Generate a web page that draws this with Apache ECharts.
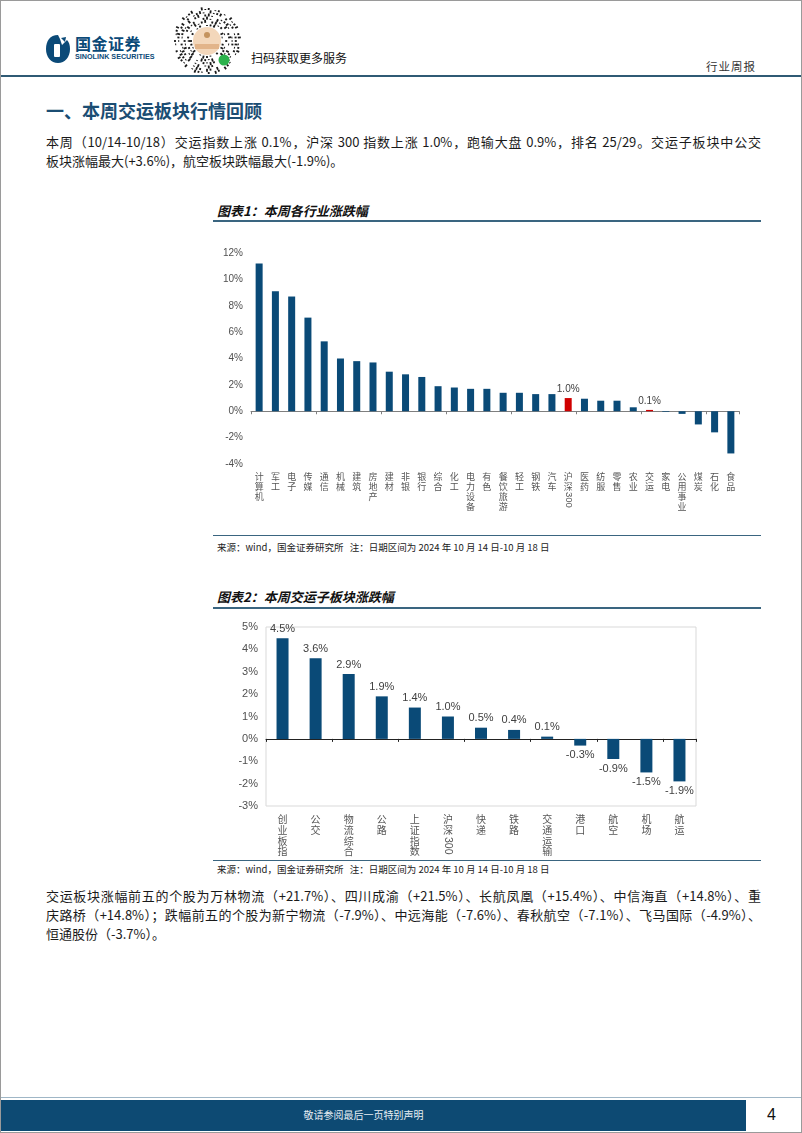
<!DOCTYPE html>
<html><head><meta charset="utf-8">
<script src="https://cdn.jsdelivr.net/npm/echarts@6/dist/echarts.min.js"></script>
<style>
html,body{margin:0;padding:0;background:#fff;}
#page{position:relative;width:802px;height:1133px;overflow:hidden;font-family:"Noto Sans CJK SC","Noto Sans",sans-serif;color:#111;box-sizing:border-box;border:1px solid #9a9a9a;background:#fff;}
.abs{position:absolute;white-space:nowrap;}
.para{position:absolute;left:45px;width:715px;font-size:13px;line-height:19px;color:#1a1a1a;}
.para div{height:19px;}
.para .full{text-align:justify;text-align-last:justify;}
.ctitle{position:absolute;left:216px;font-size:13px;font-weight:bold;font-style:italic;color:#111;line-height:16px;}
.cline{position:absolute;left:212px;width:548px;background:#3a6580;}
.src{position:absolute;left:216px;font-size:9.5px;color:#222;line-height:12px;}
</style></head>
<body>
<div id="page">
  <!-- header -->
  <svg class="abs" style="left:44px;top:33px" width="26" height="30" viewBox="0 0 26 30">
    <path d="M13 1 C5 1 1 7 1 15 C1 23 6 29 13 29 C20 29 25 23 25 15 C25 11 24 8 22 6 L17 11 L15 5 Z" fill="#0b4a78"/>
    <path d="M16 4 L21 3 L20 8 Z" fill="#0b4a78"/>
    <rect x="9" y="10" width="6" height="13" rx="1" fill="#fff"/>
  </svg>
  <div class="abs" style="left:74px;top:33px;font-size:16px;font-weight:bold;color:#0b4a78;letter-spacing:0.5px;line-height:18px;">国金证券</div>
  <div class="abs" style="left:74px;top:51px;font-size:7.2px;font-weight:bold;color:#0b4a78;line-height:9px;font-family:'Liberation Sans',Arial,sans-serif;">SINOLINK SECURITIES</div>
  <canvas id="qr" class="abs" style="left:172px;top:6px;" width="68" height="68"></canvas>
  <div class="abs" style="left:250px;top:49px;font-size:12px;color:#111;line-height:15px;">扫码获取更多服务</div>
  <div class="abs" style="left:705px;top:58px;font-size:11.5px;color:#333;line-height:14px;letter-spacing:1px;">行业周报</div>
  <div class="abs" style="left:0;top:74px;width:802px;height:2px;background:#2f5a74;"></div>

  <div class="abs" style="left:45px;top:99px;font-size:18px;font-weight:bold;color:#1b4d73;line-height:20px;">一、本周交运板块行情回顾</div>
  <div class="para" style="top:131px;">
    <div class="full">本周（10/14-10/18）交运指数上涨 0.1%，沪深 300 指数上涨 1.0%，跑输大盘 0.9%，排名 25/29。交运子板块中公交</div>
    <div>板块涨幅最大(+3.6%)，航空板块跌幅最大(-1.9%)。</div>
  </div>

  <div class="ctitle" style="top:202px;">图表1：本周各行业涨跌幅</div>
  <div class="cline" style="top:219px;height:2px;"></div>
  <div id="c1" class="abs" style="left:200px;top:230px;width:560px;height:300px;"></div>
  <div class="cline" style="top:534px;height:1px;"></div>
  <div class="src" style="top:540px;">来源：wind，国金证券研究所&nbsp;&nbsp;&nbsp;注：日期区间为 2024 年 10 月 14 日-10 月 18 日</div>

  <div class="ctitle" style="top:588px;">图表2：本周交运子板块涨跌幅</div>
  <div class="cline" style="top:606px;height:2px;"></div>
  <div id="c2" class="abs" style="left:200px;top:610px;width:560px;height:248px;"></div>
  <div class="cline" style="top:859px;height:1px;"></div>
  <div class="src" style="top:862px;">来源：wind，国金证券研究所&nbsp;&nbsp;&nbsp;注：日期区间为 2024 年 10 月 14 日-10 月 18 日</div>

  <div class="para" style="top:885px;">
    <div class="full">交运板块涨幅前五的个股为万林物流（+21.7%）、四川成渝（+21.5%）、长航凤凰（+15.4%）、中信海直（+14.8%）、重</div>
    <div class="full">庆路桥（+14.8%）；跌幅前五的个股为新宁物流（-7.9%）、中远海能（-7.6%）、春秋航空（-7.1%）、飞马国际（-4.9%）、</div>
    <div>恒通股份（-3.7%）。</div>
  </div>

  <!-- footer -->
  <div class="abs" style="left:0;top:1096px;width:802px;height:1px;background:#9fb6c6;"></div>
  <div class="abs" style="left:0;top:1099px;width:745px;height:31px;background:#0d4a73;"></div>
  <div class="abs" style="left:0;top:1107px;width:725px;text-align:center;font-size:10px;color:#e8eef3;line-height:14px;">敬请参阅最后一页特别声明</div>
  <div class="abs" style="left:766px;top:1104px;font-size:16px;color:#111;line-height:20px;font-family:'Liberation Sans',Arial,sans-serif;">4</div>
</div>
<script>
// ---------- Chart 1 data ----------
const industryNames = ['计算机','军工','电子','传媒','通信','机械','建筑','房地产','建材','非银','银行','综合','化工','电力设备','有色','餐饮旅游','轻工','钢铁','汽车','沪深300','医药','纺服','零售','农业','交运','家电','公用事业','煤炭','石化','食品'];
const industryChanges = [11.2, 9.1, 8.7, 7.1, 5.3, 4.0, 3.8, 3.7, 3.0, 2.8, 2.6, 1.9, 1.8, 1.7, 1.7, 1.4, 1.4, 1.3, 1.3, 1.0, 0.95, 0.8, 0.8, 0.3, 0.1, -0.05, -0.2, -1.0, -1.6, -3.2];
const industryHighlight = ['沪深300','交运'];
const industryTicks = [-4, -2, 0, 2, 4, 6, 8, 10, 12];

// ---------- Chart 2 data ----------
const subNames = ['创业板指','公交','物流综合','公路','上证指数','沪深300','快递','铁路','交通运输','港口','航空','机场','航运'];
const subChanges = [4.5, 3.6, 2.9, 1.9, 1.4, 1.0, 0.5, 0.4, 0.1, -0.3, -0.9, -1.5, -1.9];
const subTicks = [-3, -2, -1, 0, 1, 2, 3, 4, 5];

const BLUE = '#0a4a77', RED = '#d00000';
const ARIAL = "'Liberation Sans', Arial, sans-serif";
const CJK = "'Noto Sans CJK SC', sans-serif";

// decorative mini-program code in the header
(function drawQR() {
  const cv = document.getElementById('qr'), ctx = cv.getContext('2d');
  const cx = 34, cy = 34;
  ctx.fillStyle = '#1a1a1a';
  for (let r = 0; r < 6; r++) {
    const rad = 16 + r * 3.2;
    const cnt = 28 + r * 6;
    for (let k = 0; k < cnt; k++) {
      if (((k * 7 + r * 3) % 5) === 0 || ((k * 3 + r) % 7) === 2) continue;
      const a = (k / cnt) * Math.PI * 2;
      ctx.save(); ctx.translate(cx + rad * Math.cos(a), cy + rad * Math.sin(a)); ctx.rotate(a);
      ctx.fillRect(-1, -0.9, 1 + ((k + r) % 3), 1.8); ctx.restore();
    }
  }
  ctx.fillStyle = '#f3d7bb'; ctx.beginPath(); ctx.arc(cx, cy, 14, 0, Math.PI * 2); ctx.fill();
  ctx.fillStyle = '#e2b48a'; ctx.fillRect(cx - 12, cy + 3, 24, 5);
  ctx.fillStyle = '#c4935f'; ctx.beginPath(); ctx.arc(cx, cy - 6, 3, 0, Math.PI * 2); ctx.fill();
  ctx.fillStyle = '#2bb24c'; ctx.beginPath(); ctx.arc(cx + 17, cy + 19, 5.5, 0, Math.PI * 2); ctx.fill();
})();

function stackLabel(name) {
  if (name === '沪深300') return '沪\n深';
  return name.split('').join('\n');
}
function digitLabel(name) { return name === '沪深300' ? '300' : ''; }

function buildOption(cfg) {
  const n = cfg.names;
  return {
    animation: false,
    grid: cfg.grid,
    xAxis: [
      { type: 'category', data: n, position: 'bottom',
        axisLine: { show: false, onZero: false }, axisTick: { show: false },
        axisLabel: { interval: 0, margin: cfg.labelMargin, formatter: stackLabel,
          fontFamily: CJK, fontSize: cfg.catFont, lineHeight: cfg.catLine, color: '#555', verticalAlign: 'top' } },
      { type: 'category', data: n, position: 'bottom',
        axisLine: { show: true, onZero: true, lineStyle: { color: cfg.axisColor, width: 1 } },
        axisTick: { show: true, length: 3, lineStyle: { color: cfg.axisColor } },
        axisLabel: { show: false } },
      { type: 'category', data: n, position: 'bottom',
        axisLine: { show: false, onZero: false }, axisTick: { show: false },
        axisLabel: { interval: 0, rotate: -90, margin: cfg.digitMargin, formatter: digitLabel,
          fontFamily: ARIAL, fontSize: cfg.catFont + 0.5, color: '#555' } }
    ],
    yAxis: {
      type: 'value', min: cfg.ticks[0], max: cfg.ticks[cfg.ticks.length - 1],
      interval: cfg.ticks[1] - cfg.ticks[0],
      axisLine: { show: false }, axisTick: { show: false }, splitLine: { show: false },
      axisLabel: { formatter: v => v + '%', fontFamily: ARIAL, fontSize: cfg.yFont, color: '#505050', margin: cfg.yMargin }
    },
    series: [{
      type: 'bar', xAxisIndex: 0, barWidth: cfg.barWidth,
      data: cfg.values.map((v, i) => {
        const isHi = cfg.highlight && cfg.highlight.indexOf(n[i]) >= 0;
        const item = { value: v, itemStyle: { color: isHi ? RED : BLUE } };
        item.label = { show: cfg.labelAll || isHi, position: v >= 0 ? 'top' : 'bottom', distance: 4,
          formatter: p => p.value.toFixed(1) + '%', fontFamily: ARIAL, fontSize: cfg.dataFont, color: '#404040' };
        return item;
      })
    }]
  };
}

const c1 = echarts.init(document.getElementById('c1'), null, { renderer: 'canvas' });
c1.setOption(buildOption({
  names: industryNames, values: industryChanges, highlight: industryHighlight, ticks: industryTicks,
  grid: { left: 50, top: 22, width: 488, height: 211 },
  labelMargin: 8, digitMargin: 28, catFont: 9, catLine: 9.8, axisColor: '#7f7f7f',
  yFont: 10, yMargin: 8, barWidth: 7, dataFont: 10, labelAll: false
}));

const c2 = echarts.init(document.getElementById('c2'), null, { renderer: 'canvas' });
c2.setOption(buildOption({
  names: subNames, values: subChanges, highlight: null, ticks: subTicks,
  grid: { left: 65, top: 16, width: 430, height: 179, show: true, borderColor: '#d9d9d9', borderWidth: 1 },
  labelMargin: 8, digitMargin: 31, catFont: 10, catLine: 10.7, axisColor: '#222',
  yFont: 11, yMargin: 8, barWidth: 12, dataFont: 11, labelAll: true
}));
</script>
</body></html>
